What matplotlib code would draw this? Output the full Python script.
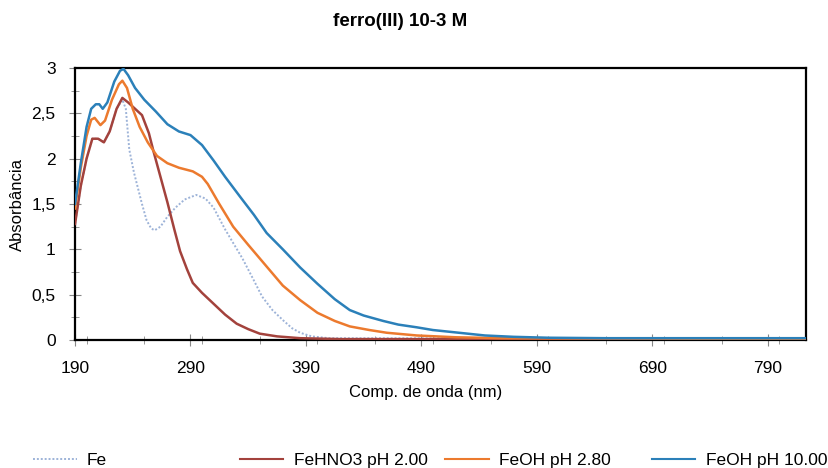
import matplotlib
matplotlib.use('Agg')
import matplotlib.pyplot as plt
from matplotlib.lines import Line2D
from matplotlib.ticker import MultipleLocator

plt.rcParams['font.family'] = ['Liberation Sans', 'DejaVu Sans']

# Fe (dotted)
fe_x = [190, 195, 200, 205, 210, 215, 220, 226, 231, 234, 237, 241, 244, 248, 252, 256, 259,
        264, 270, 277, 285, 295, 303, 310, 320, 327, 335, 344, 352, 361, 370, 378, 385, 395,
        410, 823]
fe_y = [1.28, 1.70, 2.00, 2.22, 2.22, 2.18, 2.30, 2.55, 2.65, 2.55, 2.10, 1.85, 1.70, 1.50,
        1.32, 1.23, 1.21, 1.25, 1.36, 1.46, 1.55, 1.60, 1.56, 1.46, 1.22, 1.07, 0.90, 0.68,
        0.48, 0.33, 0.22, 0.13, 0.08, 0.04, 0.02, 0.01]

# FeHNO3 pH 2.00
hno3_x = [190, 195, 200, 205, 210, 215, 220, 226, 231, 236, 242, 248, 254, 258, 264, 270, 276,
          281, 287, 292, 300, 310, 320, 330, 340, 350, 365, 385, 420, 823]
hno3_y = [1.28, 1.70, 2.00, 2.22, 2.22, 2.18, 2.30, 2.55, 2.67, 2.62, 2.55, 2.48, 2.28, 2.08,
          1.80, 1.52, 1.22, 0.98, 0.78, 0.63, 0.52, 0.40, 0.28, 0.18, 0.12, 0.07, 0.04, 0.02,
          0.01, 0.01]

# FeOH pH 2.80
oh28_x = [190, 195, 200, 204, 207, 212, 216, 222, 228, 231, 235, 240, 246, 253, 261, 270, 280,
          292, 300, 305, 315, 327, 340, 356, 370, 385, 400, 415, 428, 445, 460, 486, 520, 560,
          823]
oh28_y = [1.45, 1.90, 2.25, 2.43, 2.45, 2.37, 2.42, 2.65, 2.82, 2.86, 2.78, 2.55, 2.35, 2.18,
          2.03, 1.95, 1.90, 1.86, 1.80, 1.72, 1.50, 1.25, 1.05, 0.81, 0.60, 0.44, 0.30, 0.21,
          0.15, 0.11, 0.08, 0.05, 0.03, 0.02, 0.01]

# FeOH pH 10.00
oh10_x = [190, 195, 200, 204, 208, 211, 214, 218, 224, 229, 232, 236, 242, 250, 260, 270, 280,
          290, 300, 310, 320, 333, 345, 356, 370, 385, 400, 415, 428, 440, 457, 470, 486, 500,
          515, 530, 545, 570, 600, 650, 700, 750, 823]
oh10_y = [1.50, 1.95, 2.35, 2.55, 2.60, 2.60, 2.55, 2.62, 2.85, 2.97, 2.99, 2.92, 2.78, 2.65,
          2.52, 2.38, 2.30, 2.26, 2.15, 1.98, 1.80, 1.58, 1.38, 1.18, 1.00, 0.80, 0.62, 0.45,
          0.33, 0.27, 0.21, 0.17, 0.14, 0.11, 0.09, 0.07, 0.05, 0.035, 0.025, 0.02, 0.02, 0.02,
          0.02]

labels = ['Fe', 'FeHNO3 pH 2.00', 'FeOH pH 2.80', 'FeOH pH 10.00']
colors = ['#9db3d8', '#a3423c', '#ec7a2e', '#2b80b9']

fig = plt.figure(figsize=(8.29, 4.68), dpi=100)
ax = fig.add_axes([0.0905, 0.2735, 0.8815, 0.5812])

ax.plot(fe_x, fe_y, color=colors[0], lw=1.4, ls=(0, (1, 1)), zorder=2)
ax.plot(hno3_x, hno3_y, color=colors[1], lw=1.8, zorder=3)
ax.plot(oh28_x, oh28_y, color=colors[2], lw=1.8, zorder=4)
ax.plot(oh10_x, oh10_y, color=colors[3], lw=1.8, zorder=5)

ax.set_xlim(190, 823)
ax.set_ylim(0, 3)
ax.xaxis.set_minor_locator(MultipleLocator(50))
ax.yaxis.set_minor_locator(MultipleLocator(0.25))
ax.set_xticks(range(190, 800, 100))
ax.set_yticks([0, 0.5, 1, 1.5, 2, 2.5, 3])
ax.set_yticklabels(['0', '0,5', '1', '1,5', '2', '2,5', '3'])
ax.tick_params(which='both', direction='inout', color='#888888', labelsize=12.5)
ax.tick_params(which='major', length=8)
ax.tick_params(which='minor', length=6)
ax.tick_params(axis='x', pad=11)
ax.tick_params(axis='y', pad=10)
for s in ax.spines.values():
    s.set_linewidth(1.6)
    s.set_color('black')

ax.set_xlabel('Comp. de onda (nm)', fontsize=12)
ax.xaxis.set_label_coords(0.48, -0.165)
ax.set_ylabel('Absorbância', fontsize=12)
ax.yaxis.set_label_coords(-0.069, 0.5)
fig.text(0.483, 0.953, 'ferro(III) 10-3 M', ha='center', va='center',
         fontsize=13.5, fontweight='bold')

# legend: four evenly spaced entries along the bottom
starts = [0.040, 0.2895, 0.537, 0.7865]
for i, (lab, c) in enumerate(zip(labels, colors)):
    if i == 0:
        h = Line2D([], [], color=c, lw=1.4, ls=(0, (1, 1)))
    else:
        h = Line2D([], [], color=c, lw=1.5)
    fig.legend([h], [lab], loc='center left', bbox_to_anchor=(starts[i], 0.017),
               frameon=False, fontsize=12.5, handlelength=2.5, handletextpad=0.6,
               borderpad=0, borderaxespad=0)

fig.savefig('out.png', dpi=100)
